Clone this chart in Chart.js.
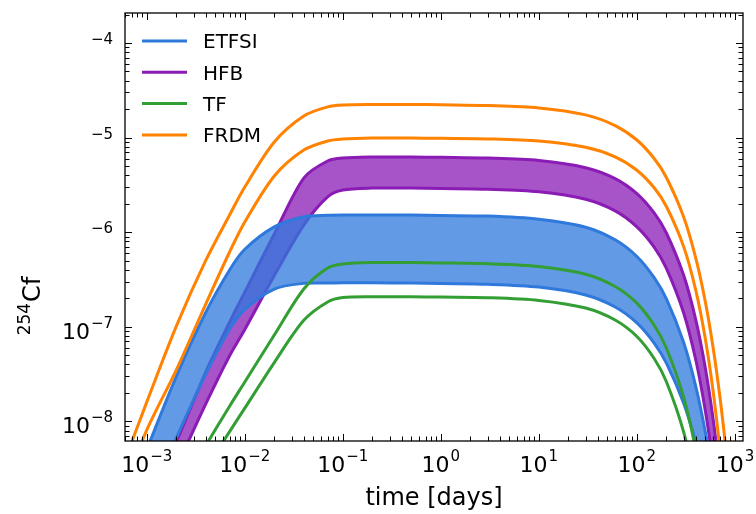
<!DOCTYPE html>
<html>
<head>
<meta charset="utf-8">
<script src="https://cdn.jsdelivr.net/npm/chart.js@4.4.1/dist/chart.umd.min.js"></script>
<style>
  html, body { margin: 0; padding: 0; background: #fff; }
  #chart { display: block; }
</style>
</head>
<body>
<canvas id="chart" width="756" height="514"></canvas>
<script>
// time grid in days
const times = [6e-4, 1e-3, 2e-3, 4e-3, 7e-3, 0.01, 0.02, 0.04, 0.07, 0.1, 0.2, 0.5, 1, 3, 10, 30, 60, 100, 150, 200, 300, 400, 500, 600, 700, 800, 1000, 1200];

const frdmHigh = [3.91e-9, 1.60e-8, 1.01e-7, 5.03e-7, 1.52e-6, 3.00e-6, 8.98e-6, 1.69e-5, 2.11e-5, 2.21e-5, 2.24e-5, 2.24e-5, 2.22e-5, 2.18e-5, 2.06e-5, 1.74e-5, 1.34e-5, 9.43e-6, 6.01e-6, 3.79e-6, 1.45e-6, 5.26e-7, 1.82e-7, 5.98e-8, 1.88e-8, 5.59e-9, 4.29e-10, 2.69e-11];
const frdmLow = [2.13e-9, 8.11e-9, 3.49e-8, 1.74e-7, 6.18e-7, 1.28e-6, 3.93e-6, 7.39e-6, 9.20e-6, 9.66e-6, 9.90e-6, 9.90e-6, 9.83e-6, 9.69e-6, 9.20e-6, 7.91e-6, 6.27e-6, 4.52e-6, 2.95e-6, 1.87e-6, 7.04e-7, 2.40e-7, 7.38e-8, 2.06e-8, 5.22e-9, 1.20e-9, 4.68e-11, 1.23e-12];
const hfbHigh = [3.43e-10, 1.24e-9, 6.06e-9, 3.33e-8, 1.12e-7, 2.33e-7, 9.57e-7, 3.74e-6, 5.66e-6, 6.09e-6, 6.24e-6, 6.24e-6, 6.18e-6, 6.07e-6, 5.73e-6, 4.81e-6, 3.69e-6, 2.56e-6, 1.60e-6, 9.81e-7, 3.50e-7, 1.17e-7, 3.62e-8, 1.05e-8, 2.83e-9, 7.11e-10, 3.64e-11, 1.41e-12];
const hfbLow = [2.06e-10, 6.61e-10, 3.22e-9, 1.53e-8, 4.94e-8, 9.36e-8, 3.48e-7, 1.19e-6, 2.36e-6, 2.79e-6, 2.93e-6, 2.93e-6, 2.90e-6, 2.85e-6, 2.68e-6, 2.23e-6, 1.68e-6, 1.14e-6, 6.96e-7, 4.15e-7, 1.40e-7, 4.40e-8, 1.28e-8, 3.49e-9, 8.83e-10, 2.08e-10, 9.23e-12, 3.07e-13];
const etfsiHigh = [1.25e-9, 5.02e-9, 2.98e-8, 1.42e-7, 3.99e-7, 6.60e-7, 1.14e-6, 1.46e-6, 1.51e-6, 1.52e-6, 1.52e-6, 1.52e-6, 1.50e-6, 1.48e-6, 1.37e-6, 1.13e-6, 8.31e-7, 5.54e-7, 3.31e-7, 1.97e-7, 6.82e-8, 2.31e-8, 7.63e-9, 2.46e-9, 7.74e-10, 2.38e-10, 2.09e-11, 1.67e-12];
const etfsiLow = [3.78e-10, 1.37e-9, 6.68e-9, 3.17e-8, 9.41e-8, 1.53e-7, 2.51e-7, 2.88e-7, 2.90e-7, 2.92e-7, 2.92e-7, 2.90e-7, 2.87e-7, 2.82e-7, 2.63e-7, 2.17e-7, 1.62e-7, 1.10e-7, 6.74e-8, 4.14e-8, 1.56e-8, 5.91e-9, 2.23e-9, 8.43e-10, 3.18e-10, 1.20e-10, 1.72e-11, 2.45e-12];
const tfHigh = [1.75e-10, 4.82e-10, 1.69e-9, 5.56e-9, 1.45e-8, 2.61e-8, 8.19e-8, 2.51e-7, 4.18e-7, 4.61e-7, 4.78e-7, 4.78e-7, 4.74e-7, 4.65e-7, 4.35e-7, 3.60e-7, 2.67e-7, 1.78e-7, 1.04e-7, 5.97e-8, 1.80e-8, 4.91e-9, 1.21e-9, 2.67e-10, 5.34e-11, 9.62e-12, 2.28e-13, 3.58e-15];
const tfLow = [1.04e-10, 2.82e-10, 9.78e-10, 3.14e-9, 7.80e-9, 1.38e-8, 4.19e-8, 1.17e-7, 1.83e-7, 2.04e-7, 2.08e-7, 2.08e-7, 2.06e-7, 2.03e-7, 1.90e-7, 1.58e-7, 1.18e-7, 7.90e-8, 4.63e-8, 2.63e-8, 7.72e-9, 1.99e-9, 4.48e-10, 8.90e-11, 1.55e-11, 2.37e-12, 3.75e-14, 3.55e-16];

const legendLabels = ['ETFSI', 'HFB', 'TF', 'FRDM'];

const xTickValues = [1e-3, 1e-2, 1e-1, 1, 10, 100, 1000];
const xTickSup = ['\u22123', '\u22122', '\u22121', '0', '1', '2', '3'];
const yTickValues = [1e-8, 1e-7, 1e-6, 1e-5, 1e-4];
const yTickBase = ['10', '10', '', '', ''];
const yTickSup = ['\u22128', '\u22127', '\u22126', '\u22125', '\u22124'];

const FONT = "'DejaVu Sans', sans-serif";
const BLUE = '#2f78dc';
const PURPLE = '#8a1bb5';
const GREEN = '#339e33';
const ORANGE = '#ff8200';
const legendColors = [BLUE, PURPLE, GREEN, ORANGE];

const pts = vals => times.map((t, i) => ({ x: t, y: vals[i] }));

function line(vals, color, extra) {
    return Object.assign({
        data: pts(vals),
        borderColor: color,
        borderWidth: 3,
        pointRadius: 0,
        fill: false,
        clip: 0,
        tension: 0.3
    }, extra || {});
}

// draws "10" with a raised exponent; align 'center' or 'right'
function drawPower(ctx, base, sup, x, y, align) {
    ctx.font = `22px ${FONT}`;
    const wb = base ? ctx.measureText(base).width + 1 : 0;
    ctx.font = `15px ${FONT}`;
    const ws = ctx.measureText(sup).width;
    const left = align === 'center' ? x - (wb + ws) / 2 : x - wb - ws;
    ctx.textAlign = 'left';
    ctx.textBaseline = 'alphabetic';
    if (base) {
        ctx.font = `22px ${FONT}`;
        ctx.fillText(base, left, y);
    }
    ctx.font = `15px ${FONT}`;
    ctx.fillText(sup, left + wb, y - 11);
}

const decor = {
    id: 'decor',
    afterDraw(chart) {
        const { ctx, chartArea: a } = chart;
        const xs = chart.scales.x, ys = chart.scales.y;
        ctx.save();
        ctx.fillStyle = '#000';
        ctx.strokeStyle = '#000';

        // inward ticks on all four sides
        ctx.lineWidth = 1;
        ctx.beginPath();
        for (let k = -10; k <= 4; k++) {
            for (let m = 1; m <= 9; m++) {
                const v = m * Math.pow(10, k);
                const len = m === 1 ? 7 : 4.5;
                if (v >= xs.min && v <= xs.max) {
                    const px = Math.round(xs.getPixelForValue(v)) + 0.5;
                    ctx.moveTo(px, a.bottom); ctx.lineTo(px, a.bottom - len);
                    ctx.moveTo(px, a.top); ctx.lineTo(px, a.top + len);
                }
                if (v >= ys.min && v <= ys.max) {
                    const py = Math.round(ys.getPixelForValue(v)) + 0.5;
                    ctx.moveTo(a.left, py); ctx.lineTo(a.left + len, py);
                    ctx.moveTo(a.right, py); ctx.lineTo(a.right - len, py);
                }
            }
        }
        ctx.stroke();

        ctx.lineWidth = 1.3;
        ctx.strokeRect(a.left, a.top, a.right - a.left, a.bottom - a.top);

        xTickValues.forEach((v, i) => {
            drawPower(ctx, '10', xTickSup[i], xs.getPixelForValue(v), 472, 'center');
        });
        yTickValues.forEach((v, i) => {
            const py = ys.getPixelForValue(v);
            drawPower(ctx, yTickBase[i], yTickSup[i], 113, py + 12, 'right');
        });

        // axis titles
        ctx.textAlign = 'center';
        ctx.textBaseline = 'alphabetic';
        ctx.font = `24px ${FONT}`;
        ctx.fillText('time [days]', (a.left + a.right) / 2, 505);

        ctx.save();
        ctx.translate(40, 306);
        ctx.rotate(-Math.PI / 2);
        ctx.textAlign = 'left';
        ctx.font = `17px ${FONT}`;
        const wIso = ctx.measureText('254').width;
        ctx.font = `24px ${FONT}`;
        const wEl = ctx.measureText('Cf').width;
        const start = -(wIso + wEl + 1) / 2;
        ctx.font = `17px ${FONT}`;
        ctx.fillText('254', start, -10);
        ctx.font = `24px ${FONT}`;
        ctx.fillText('Cf', start + wIso + 1, 0);
        ctx.restore();

        // legend
        ctx.font = `20px ${FONT}`;
        ctx.textAlign = 'left';
        legendLabels.forEach((label, i) => {
            const cy = 41 + i * 31.3;
            ctx.strokeStyle = legendColors[i];
            ctx.lineWidth = 3;
            ctx.beginPath();
            ctx.moveTo(142, cy);
            ctx.lineTo(187, cy);
            ctx.stroke();
            ctx.fillStyle = '#000';
            ctx.fillText(label, 203, cy + 7.3);
        });
        ctx.restore();
    }
};

// index 0 is drawn on top
const datasets = [
    line(frdmHigh, ORANGE, { label: 'FRDM' }),
    line(frdmLow, ORANGE, { label: 'FRDM low' }),
    line(tfHigh, GREEN, { label: 'TF' }),
    line(tfLow, GREEN, { label: 'TF low' }),
    line(etfsiHigh, BLUE, { label: 'ETFSI' }),
    line(etfsiLow, BLUE, { label: 'ETFSI low', fill: 4, backgroundColor: 'rgba(47,120,220,0.75)' }),
    line(hfbHigh, PURPLE, { label: 'HFB' }),
    line(hfbLow, PURPLE, { label: 'HFB low', fill: 6, backgroundColor: 'rgba(138,27,181,0.75)' })
];

new Chart(document.getElementById('chart').getContext('2d'), {
    type: 'line',
    data: { datasets: datasets },
    options: {
        responsive: false,
        animation: false,
        devicePixelRatio: 1,
        layout: { padding: { top: 13, right: 13, left: 0, bottom: 0 } },
        scales: {
            x: {
                type: 'logarithmic',
                min: 6.245e-4,
                max: 1209,
                ticks: { display: false },
                grid: { display: false },
                border: { display: false },
                afterFit: s => { s.height = 73; }
            },
            y: {
                type: 'logarithmic',
                min: 6.21e-9,
                max: 2.075e-4,
                ticks: { display: false },
                grid: { display: false },
                border: { display: false },
                afterFit: s => { s.width = 125; }
            }
        },
        plugins: {
            legend: { display: false },
            tooltip: { enabled: false }
        }
    },
    plugins: [decor]
});
</script>
</body>
</html>
